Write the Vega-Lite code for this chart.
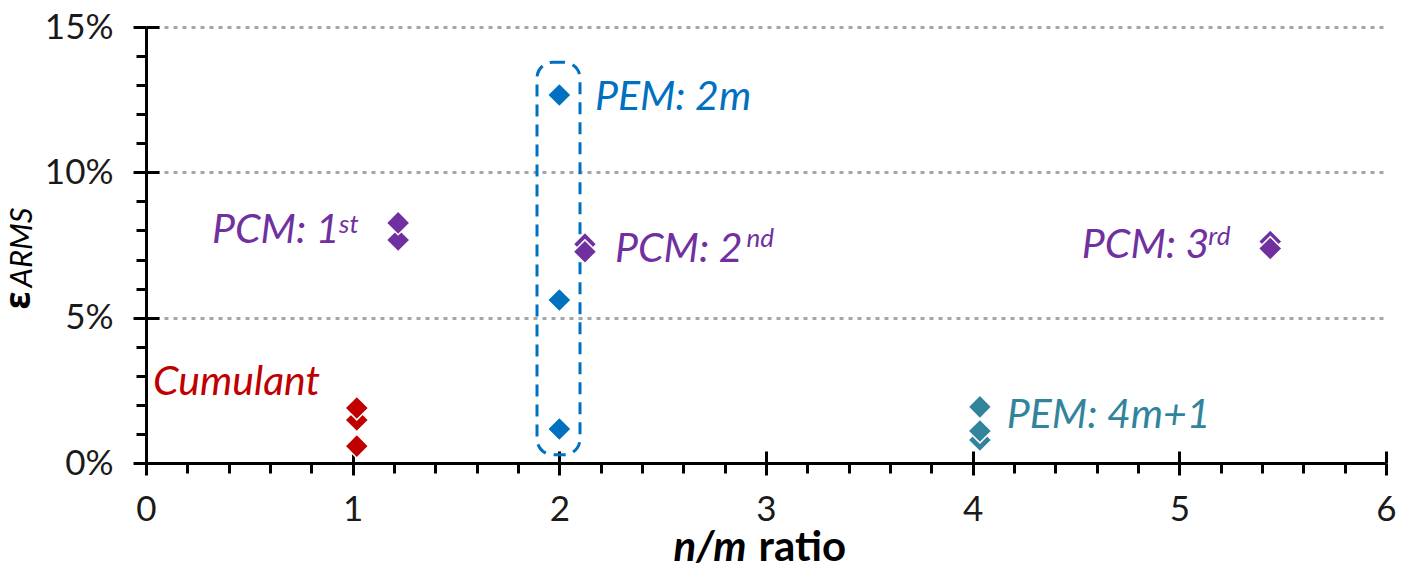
{
  "$schema": "https://vega.github.io/schema/vega-lite/v6.json",
  "width": 1240,
  "height": 436,
  "autosize": {"type": "none"},
  "padding": {"left": 146, "top": 27, "right": 16, "bottom": 112},
  "background": "white",
  "config": {"view": {"stroke": null}, "font": "Lato"},
  "datasets": {
    "points": [
      {"series": "Cumulant", "x": 1.02, "y": 0.0148},
      {"series": "Cumulant", "x": 1.02, "y": 0.0189},
      {"series": "Cumulant", "x": 1.02, "y": 0.0058},
      {"series": "PCM", "x": 1.22, "y": 0.0767},
      {"series": "PCM", "x": 1.22, "y": 0.0826},
      {"series": "PCM", "x": 2.124, "y": 0.0753},
      {"series": "PCM", "x": 2.124, "y": 0.0727},
      {"series": "PCM", "x": 5.44, "y": 0.0762},
      {"series": "PCM", "x": 5.44, "y": 0.0738},
      {"series": "PEM: 2m", "x": 2.0, "y": 0.1266},
      {"series": "PEM: 2m", "x": 2.0, "y": 0.0561},
      {"series": "PEM: 2m", "x": 2.0, "y": 0.0117},
      {"series": "PEM: 4m+1", "x": 4.035, "y": 0.0079},
      {"series": "PEM: 4m+1", "x": 4.035, "y": 0.0110},
      {"series": "PEM: 4m+1", "x": 4.035, "y": 0.0193}
    ],
    "labels": [
      {"series": "Cumulant", "label": "Cumulant", "x": 0.034, "y": 0.0234},
      {"series": "PCM", "label": "PCM: 1", "x": 0.319, "y": 0.0757},
      {"series": "PCM", "label": "PCM: 2", "x": 2.269, "y": 0.0691},
      {"series": "PCM", "label": "PCM: 3", "x": 4.528, "y": 0.0705},
      {"series": "PEM: 2m", "label": "PEM: 2m", "x": 2.172, "y": 0.1214},
      {"series": "PEM: 4m+1", "label": "PEM: 4m+1", "x": 4.165, "y": 0.012}
    ],
    "sups": [
      {"series": "PCM", "label": "st", "x": 0.934, "y": 0.0791},
      {"series": "PCM", "label": "nd", "x": 2.906, "y": 0.0743},
      {"series": "PCM", "label": "rd", "x": 5.14, "y": 0.075}
    ],
    "box": [
      {"series": "PEM: 2m", "x0": 1.892, "x1": 2.1, "y0": 0.0028, "y1": 0.1379}
    ]
  },
  "resolve": {"axis": {"x": "independent", "y": "independent"}},
  "layer": [
    {
      "data": {"name": "box"},
      "mark": {"type": "rect", "fillOpacity": 0, "stroke": "#0070C0", "strokeWidth": 3, "strokeDash": [12, 8], "cornerRadius": 16},
      "encoding": {
        "x": {"field": "x0", "type": "quantitative", "scale": {"domain": [0, 6], "nice": false},
          "axis": {"orient": "bottom", "values": [0.2, 0.4, 0.6, 0.8, 1.2, 1.4, 1.6, 1.8, 2.2, 2.4, 2.6, 2.8, 3.2, 3.4, 3.6, 3.8, 4.2, 4.4, 4.6, 4.8, 5.2, 5.4, 5.6, 5.8],
            "tickSize": 10, "tickWidth": 3, "tickColor": "black", "labels": false, "domain": false, "grid": false,
            "title": "ratio", "titleFont": "Lato", "titleFontSize": 42, "titleFontWeight": "bold", "titleColor": "black",
            "titleX": 612, "titleY": 97, "titleAlign": "left", "titleBaseline": "alphabetic"}},
        "x2": {"field": "x1"},
        "y": {"field": "y0", "type": "quantitative", "scale": {"domain": [0, 0.15], "nice": false},
          "axis": {"orient": "left", "values": [0.01, 0.02, 0.03, 0.04, 0.06, 0.07, 0.08, 0.09, 0.11, 0.12, 0.13, 0.14],
            "tickSize": 10, "tickWidth": 3, "tickColor": "black", "labels": false, "domain": false, "grid": false,
            "title": "ARMS", "titleFont": "Lato", "titleFontStyle": "italic", "titleFontWeight": "normal", "titleFontSize": 31, "titleColor": "black",
            "titleAngle": -90, "titleX": -115, "titleY": 220, "titleAlign": "center", "titleBaseline": "alphabetic"}},
        "y2": {"field": "y1"}
      }
    },
    {
      "data": {"name": "points"},
      "mark": {"type": "point", "shape": "diamond", "filled": true, "size": 560, "opacity": 1, "stroke": "white", "strokeWidth": 1.5},
      "encoding": {
        "x": {"field": "x", "type": "quantitative", "scale": {"domain": [0, 6], "nice": false},
          "axis": {"orient": "bottom", "values": [0, 1, 2, 3, 4, 5, 6], "format": "d", "tickSize": 12, "tickWidth": 3, "tickColor": "black",
            "domainColor": "black", "domainWidth": 3, "labelFont": "Lato", "labelFontSize": 35, "labelColor": "#1a1a1a", "labelPadding": 17,
            "labelFlush": false, "labelOverlap": false, "grid": false,
            "title": "n/m", "titleFont": "Lato", "titleFontSize": 42, "titleFontWeight": "bold", "titleFontStyle": "italic", "titleColor": "black",
            "titleX": 527, "titleY": 97, "titleAlign": "left", "titleBaseline": "alphabetic"}},
        "y": {"field": "y", "type": "quantitative", "scale": {"domain": [0, 0.15], "nice": false},
          "axis": {"orient": "left", "values": [0, 0.05, 0.1, 0.15], "format": ".0%", "tickSize": 13, "tickWidth": 3, "tickColor": "black",
            "domainColor": "black", "domainWidth": 3, "labelFont": "Lato", "labelFontSize": 35, "labelColor": "#1a1a1a", "labelPadding": 20,
            "labelFlush": false, "labelOverlap": false,
            "grid": true, "gridColor": "#A6A6A6", "gridWidth": 3, "gridDash": [4, 5],
            "title": "ε", "titleFont": "Noto Sans", "titleFontSize": 36, "titleFontWeight": "bold", "titleColor": "black",
            "titleAngle": -90, "titleX": -128, "titleY": 273, "titleAlign": "center", "titleBaseline": "middle"}},
        "color": {"field": "series", "type": "nominal",
          "scale": {"domain": ["Cumulant", "PCM", "PEM: 2m", "PEM: 4m+1"], "range": ["#C00000", "#7030A0", "#0070C0", "#31849B"]},
          "legend": null}
      }
    },
    {
      "data": {"name": "labels"},
      "mark": {"type": "text", "align": "left", "baseline": "alphabetic", "font": "Lato", "fontStyle": "italic", "fontSize": 41},
      "encoding": {
        "x": {"field": "x", "type": "quantitative", "scale": {"domain": [0, 6], "nice": false},
          "axis": {"orient": "bottom", "values": [1, 2, 3, 4, 5, 6], "offset": -12, "tickSize": 12, "tickWidth": 3, "tickColor": "black",
            "labels": false, "domain": false, "grid": false, "title": null}},
        "y": {"field": "y", "type": "quantitative", "scale": {"domain": [0, 0.15], "nice": false},
          "axis": {"orient": "left", "values": [0.05, 0.1, 0.15], "offset": -13, "tickSize": 13, "tickWidth": 3, "tickColor": "black",
            "labels": false, "domain": false, "grid": false, "title": null}},
        "text": {"field": "label"},
        "color": {"field": "series", "type": "nominal", "legend": null}
      }
    },
    {
      "data": {"name": "sups"},
      "mark": {"type": "text", "align": "left", "baseline": "alphabetic", "font": "Lato", "fontStyle": "italic", "fontSize": 26},
      "encoding": {
        "x": {"field": "x", "type": "quantitative", "scale": {"domain": [0, 6], "nice": false}, "axis": null},
        "y": {"field": "y", "type": "quantitative", "scale": {"domain": [0, 0.15], "nice": false}, "axis": null},
        "text": {"field": "label"},
        "color": {"field": "series", "type": "nominal", "legend": null}
      }
    }
  ]
}
